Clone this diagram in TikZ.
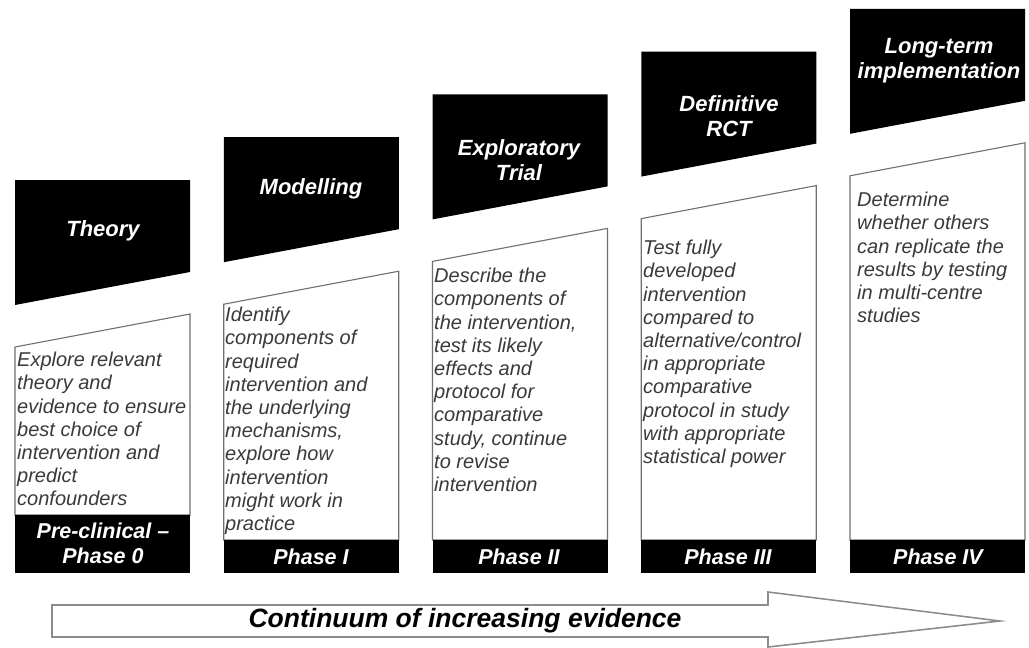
\documentclass[tikz,border=0pt]{standalone}
\usepackage{fontspec}
\setmainfont{Liberation Sans}
\definecolor{bodygray}{HTML}{3A3A3A}
\definecolor{edgegray}{HTML}{707070}
\tikzset{
    headbox/.style={fill=black},
    textbox/.style={draw=edgegray,line width=1.1pt,fill=white},
    phasebox/.style={fill=black},
    headtext/.style={text=white,align=center,inner sep=0pt,
        font=\fontsize{22}{25}\selectfont\bfseries\itshape},
    bodytext/.style={text=bodygray,align=left,anchor=north west,inner sep=0pt,
        font=\fontsize{20}{23.2}\selectfont\itshape},
    phasetext/.style={text=white,align=center,inner sep=0pt,
        font=\fontsize{21.5}{25}\selectfont\bfseries\itshape}
}
\begin{document}
\begin{tikzpicture}[x=1pt,y=-1pt]
    \useasboundingbox (0,0) rectangle (1029,648);
    % the five stages, each one step higher
    \foreach \i/\fb in {0/515,1/540,2/540,3/540,4/540}{
        \pgfmathsetmacro{\xl}{15+208.75*\i}
        \pgfmathsetmacro{\xr}{\xl+175}
        \pgfmathsetmacro{\yt}{180-42.8*\i}
        \fill[headbox] (\xl,\yt) -- (\xr,\yt) -- (\xr,\yt+92) -- (\xl,\yt+125) -- cycle;
        \draw[textbox] (\xl,\yt+167) -- (\xr,\yt+134) -- (\xr,\fb) -- (\xl,\fb) -- cycle;
        \fill[phasebox] (\xl,\fb) rectangle (\xr,573);
    }
    % headings
    \node[headtext] (theory)      at (103,231) {Theory};
    \node[headtext] (modelling)   at (311,189) {Modelling};
    \node[headtext] (exploratory) at (519,160) {Exploratory\\Trial};
    \node[headtext] (definitive)  at (729,116) {Definitive\\RCT};
    \node[headtext] (longterm)    at (939,61)  {Long-term\\implementation};
    % descriptions
    \node[bodytext] (theorytext) at (17,352) {Explore relevant\\theory and\\evidence to ensure\\best choice of\\intervention and\\predict\\confounders};
    \node[bodytext] (modeltext) at (225,307) {Identify\\components of\\required\\intervention and\\the underlying\\mechanisms,\\explore how\\intervention\\might work in\\practice};
    \node[bodytext] (trialtext) at (434,268) {Describe the\\components of\\the intervention,\\test its likely\\effects and\\protocol for\\comparative\\study, continue\\to revise\\intervention};
    \node[bodytext] (rcttext) at (643,240) {Test fully\\developed\\intervention\\compared to\\alternative/control\\in appropriate\\comparative\\protocol in study\\with appropriate\\statistical power};
    \node[bodytext] (longtext) at (857,192) {Determine\\whether others\\can replicate the\\results by testing\\in multi-centre\\studies};
    % phases
    \node[phasetext] (phase0) at (103,543) {Pre-clinical \textendash\\Phase 0};
    \node[phasetext] (phase1) at (311,557) {Phase I};
    \node[phasetext] (phase2) at (519,557) {Phase II};
    \node[phasetext] (phase3) at (728,557) {Phase III};
    \node[phasetext] (phase4) at (938,557) {Phase IV};
    % evidence arrow
    \draw[draw=edgegray!80,line width=1.6pt,fill=white,line join=miter]
        (52,605) -- (768,605) -- (768,592) -- (1000,621) -- (768,647) -- (768,637) -- (52,637) -- cycle;
    \node[inner sep=0pt,font=\fontsize{26.5}{28}\selectfont\bfseries\itshape] (evidence) at (465,621) {Continuum of increasing evidence};
\end{tikzpicture}
\end{document}
